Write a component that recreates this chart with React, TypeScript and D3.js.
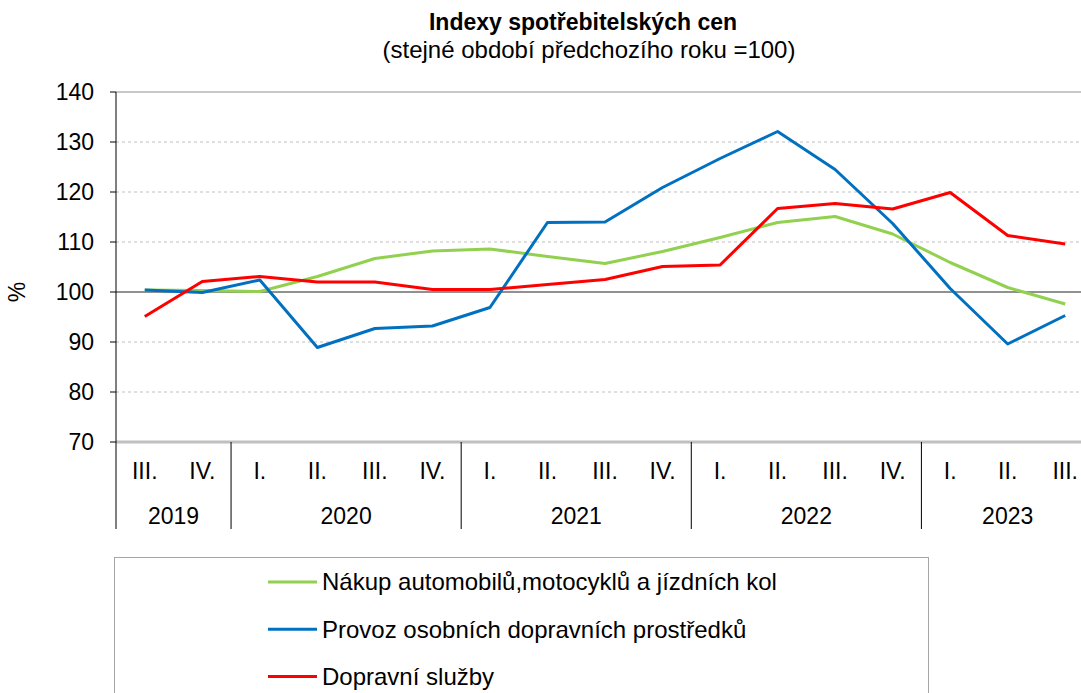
import React from "react";
import * as d3 from "d3";

// quarters from 2019 III. to 2023 III.
const quarters = ["III.", "IV.", "I.", "II.", "III.", "IV.", "I.", "II.", "III.", "IV.", "I.", "II.", "III.", "IV.", "I.", "II.", "III."];
const years = [
  { label: "2019", count: 2 },
  { label: "2020", count: 4 },
  { label: "2021", count: 4 },
  { label: "2022", count: 4 },
  { label: "2023", count: 3 },
];

const nakup = [100.4, 100.3, 100.1, 103.1, 106.7, 108.2, 108.6, 107.1, 105.7, 108.1, 110.9, 113.9, 115.1, 111.6, 105.9, 100.9, 97.6];
const provoz = [100.4, 99.9, 102.4, 88.9, 92.7, 93.2, 96.9, 113.9, 114.0, 120.9, 126.7, 132.1, 124.5, 113.7, 100.7, 89.6, 95.3];
const sluzby = [95.1, 102.1, 103.1, 102.0, 102.0, 100.5, 100.5, 101.5, 102.5, 105.1, 105.4, 116.7, 117.7, 116.6, 119.9, 111.3, 109.6];

const series = [
  { name: "Nákup automobilů,motocyklů a jízdních kol", values: nakup, color: "#92D050" },
  { name: "Provoz osobních dopravních prostředků", values: provoz, color: "#0070C0" },
  { name: "Dopravní služby", values: sluzby, color: "#FF0000" },
];

const yTicks = [70, 80, 90, 100, 110, 120, 130, 140];

const W = 1081;
const H = 693;
const font = "'Liberation Sans', Arial, sans-serif";

export default function App() {
  const left = 116;
  const right = 1094; // plot continues past the picture edge
  const top = 92;
  const bottom = 442;

  const x = d3.scaleBand<number>().domain(quarters.map((_, i) => i)).range([left, right]);
  const y = d3.scaleLinear().domain([70, 140]).range([bottom, top]);

  const line = d3.line<number>()
    .x((_, i) => x(i)! + x.bandwidth() / 2)
    .y(d => y(d));

  // year group boundaries
  let acc = 0;
  const groups = years.map(g => {
    const start = acc;
    acc += g.count;
    return { ...g, start, end: acc };
  });

  return (
    <svg width={W} height={H} style={{ position: "absolute", left: 0, top: 0, overflow: "hidden" }} fontFamily={font}>
      <rect width={W} height={H} fill="#fff" />
      <text x={583} y={30} textAnchor="middle" fontSize={23} fontWeight="bold">Indexy spotřebitelských cen</text>
      <text x={589} y={58} textAnchor="middle" fontSize={24}>(stejné období předchozího roku =100)</text>

      {/* grid */}
      {yTicks.filter(t => t !== 70 && t !== 140 && t !== 100).map(t => (
        <line key={t} x1={left} x2={right} y1={y(t)} y2={y(t)} stroke="#bfbfbf" strokeWidth={1} strokeDasharray="3,3" />
      ))}
      <line x1={left} x2={right} y1={y(140)} y2={y(140)} stroke="#c8c8c8" strokeWidth={2} />
      <line x1={left} x2={right} y1={y(100)} y2={y(100)} stroke="#222" strokeWidth={1} />
      <line x1={left} x2={right} y1={y(70)} y2={y(70)} stroke="#c0c0c0" strokeWidth={3} />

      {/* y axis */}
      <line x1={left} x2={left} y1={top} y2={bottom} stroke="#000" strokeWidth={1} />
      {yTicks.map(t => (
        <g key={t}>
          <line x1={left - 6} x2={left} y1={y(t)} y2={y(t)} stroke="#000" />
          <text x={left - 22} y={y(t)} dy="0.35em" textAnchor="end" fontSize={23}>{t}</text>
        </g>
      ))}
      <text transform={`translate(25,${y(100)}) rotate(-90)`} textAnchor="middle" fontSize={23}>%</text>

      {/* x axis: quarters and years */}
      {groups.map((g, i) => (
        <g key={g.label}>
          {i === 0 && <line x1={x(g.start)!} x2={x(g.start)!} y1={bottom} y2={529} stroke="#000" />}
          <line x1={x(g.end - 1)! + x.bandwidth()} x2={x(g.end - 1)! + x.bandwidth()} y1={bottom} y2={529} stroke="#000" />
          <text x={(x(g.start)! + x(g.end - 1)! + x.bandwidth()) / 2} y={516} dy="0.35em" textAnchor="middle" fontSize={23}>{g.label}</text>
        </g>
      ))}
      {quarters.map((q, i) => (
        <text key={i} x={x(i)! + x.bandwidth() / 2} y={471} dy="0.35em" textAnchor="middle" fontSize={23}>{q}</text>
      ))}

      {/* series */}
      {series.map(s => (
        <path key={s.name} d={line(s.values)!} fill="none" stroke={s.color} strokeWidth={3} strokeLinejoin="round" />
      ))}

      {/* legend */}
      <rect x={114.5} y={557.5} width={814} height={150} fill="#fff" stroke="#a6a6a6" strokeWidth={1} />
      {series.map((s, i) => (
        <g key={s.name} transform={`translate(0,${582 + i * 47.3})`}>
          <line x1={268} x2={317} y1={0} y2={0} stroke={s.color} strokeWidth={3} />
          <text x={322} y={0} dy="0.35em" fontSize={24}>{s.name}</text>
        </g>
      ))}
    </svg>
  );
}
